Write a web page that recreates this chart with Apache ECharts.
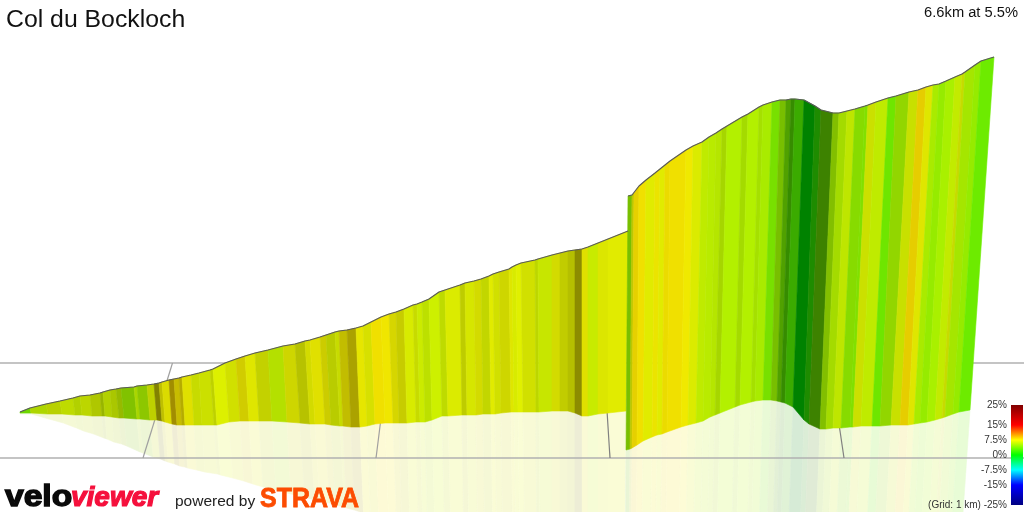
<!DOCTYPE html>
<html><head><meta charset="utf-8">
<style>html,body{margin:0;padding:0;background:#fff}#c{width:1024px;height:512px}</style>
<script src="https://cdn.jsdelivr.net/npm/echarts@6/dist/echarts.min.js"></script>
</head><body><div id="c"></div>
<script>
const title = 'Col du Bockloch';
const summary = '6.6km at 5.5%';
const gradeStops = [-25,-15,-7.5,0,7.5,15,25];
const gradeColors = [[0,0,128],[0,0,255],[0,255,255],[0,255,0],[255,255,0],[255,0,0],[128,0,0]];
const legendLabels = ['25%','15%','7.5%','0%','-7.5%','-15%','(Grid: 1 km) -25%'];
const legendRows = [405,425,440,455,470,485,505];

// lower ribbon
const w1TopX = [20,30,46,60,73,80,90,100,103,110,116,121,134,137,147,154,159,162,169,174,179,182,191,199,210,213,225,236,245,255,268,283,295,305,310,320,326,335,339,347,356,363,371,381,389,396,404,413,417,422,429,439,445,460,465,474,481,489,493,499,509,512,516,521,535,538,552,560,568,575,582,588,598,608,628];
const w1TopY = [412,408,404,401,398,396,395,393,392,390,389,388,387,386,385,384,383,382,380,379,378,377,375,373,370,369,363,359,356,353,350,346,344,341,340,337,335,332,331,330,328,326,322,317,314,312,309,305,304,302,299,292,290,285,283,281,279,276,274,272,269,267,265,263,260,259,255,253,251,250,249,247,243,239,231];
const w1BaseX = [20,31,48,62,75,82,92,102,105,112,119,124,137,140,150,157,162,165,172,177,182,185,194,202,214,217,229,240,249,259,272,287,300,310,315,325,331,340,343,351,360,367,375,385,393,399,407,416,420,425,432,442,448,462,467,476,483,491,495,501,511,514,518,523,536,539,552,560,568,575,582,588,598,608,626];
const w1BaseY = [413,413,414,414,415,415,416,416,416,417,418,418,419,419,420,420,421,422,424,425,425,425,425,425,425,425,422,421,421,421,421,422,423,424,424,424,425,426,426,427,427,426,424,423,423,423,423,422,422,422,420,416,416,415,415,415,414,414,414,413,412,412,412,412,412,412,411,411,411,413,416,416,414,413,411];
const w1FootY = [414,414,419,423,428,431,434,438,439,442,444,446,452,453,457,459,461,462,464,466,467,468,470,472,474,475,478,481,484,487,490,494,497,500,501,503,505,507,508,510,513,515,518,530,530,530,530,530,530,530,530,530,530,530,530,530,530,530,530,530,530,530,530,530,530,530,530,530,530,530,530,530,530,530,530];
const w1Grade = [3.8,6.1,6.6,6.5,6.4,6.6,6.6,6.3,6.4,6.4,6.1,5.0,5.9,5.3,6.8,7.5,7.5,7.5,8.4,7.9,7.9,7.5,6.8,6.8,6.8,6.9,7.0,7.7,7.3,7.0,6.0,7.2,7.1,7.2,7.5,7.5,6.8,6.8,7.7,7.9,7.5,7.2,8.0,7.8,7.5,7.3,6.9,6.8,6.5,6.3,6.4,6.5,7.0,7.0,7.0,7.2,6.8,7.2,7.0,7.2,7.3,6.9,7.0,7.0,6.6,6.5,7.2,7.1,7.1,7.5,7.5,6.4,7.2,7.2];
const w1Shade = [.84,.84,.82,.86,.82,.84,.78,.71,.82,.78,.73,.76,.84,.78,.82,.51,.75,.86,.63,.78,.71,.88,.86,.88,.82,.94,.88,.82,.9,.82,.88,.84,.76,.86,.88,.8,.8,.86,.76,.67,.9,.88,.94,.94,.84,.8,.92,.86,.92,.88,.94,.86,.92,.8,.9,.86,.84,.92,.88,.84,.9,.92,.94,.88,.84,.9,.86,.8,.75,.55,.88,.92,.9,.92];

// upper ribbon
const w2TopX = [628,632,634,639,646,655,660,665,670,686,693,702,709,716,722,727,742,748,759,763,772,780,786,791,795,804,815,821,833,839,847,855,865,868,876,888,896,909,918,926,933,939,946,955,962,965,975,981,994];
const w2TopY = [196,195,193,186,180,173,169,165,161,150,146,142,137,133,129,126,117,114,107,105,102,100,100,99,99,100,106,110,113,113,111,109,106,105,102,98,96,92,90,87,85,84,81,77,74,72,65,61,57];
const w2BaseX = [626,630,632,637,643,652,657,662,667,681,688,696,703,710,715,720,735,740,751,755,763,771,777,781,785,793,804,809,820,826,833,841,850,853,861,872,880,891,900,908,914,920,927,935,942,945,953,959,970];
const w2BaseY = [450,449,448,445,441,437,435,434,432,427,425,423,421,417,415,413,407,405,402,401,400,400,401,402,403,407,420,424,429,429,428,428,427,427,426,426,426,425,425,425,424,423,422,420,418,417,414,412,410];
const w2FootY = [530,530,530,530,530,530,530,530,530,530,530,530,530,530,530,530,530,530,530,530,530,530,530,530,530,530,530,530,530,530,530,530,530,530,530,530,530,530,530,530,530,530,530,530,530,530,530,530,530];
const w2Grade = [4.7,7.1,8.2,8.0,7.2,7.7,7.2,8.0,8.0,7.7,7.0,6.1,5.9,5.9,5.8,5.6,5.6,5.6,5.5,5.4,4.0,4.7,3.75,2.9,2.6,0,1.6,3.5,5.1,5.6,6.2,4.6,4.3,6.8,6.1,3.6,5.1,6.7,8.3,7.3,5.4,4.8,5.3,6.2,6.8,5.4,4.8,3.5];
const w2Shade = [.75,.78,.9,.94,.92,.92,.92,.92,.94,.94,.92,.92,.92,.9,.84,.94,.86,.94,.88,.92,.88,.75,.63,.55,.67,.51,.55,.51,.75,.86,.9,.86,.88,.88,.92,.9,.84,.88,.9,.9,.92,.92,.94,.92,.86,.9,.92,.92];

// floor grid
const gridHorizontalY = [363,458];
const gridFarX = [172.5,388,604,830];
const gridNearX = [143,376,610,844];
const gridColors = ['#a0a0a0','#a0a0a0','#808080','#808080'];

function gradeColor(g, shade, wash) {
  let i = 0;
  while (i < gradeStops.length - 2 && g > gradeStops[i + 1]) i++;
  const t = (g - gradeStops[i]) / (gradeStops[i + 1] - gradeStops[i]);
  const rgb = gradeColors[i].map((c, k) => c + (gradeColors[i + 1][k] - c) * t);
  return 'rgb(' + rgb.map(c => {
    const v = c * shade;
    return Math.round(wash ? v * 0.16 + 255 * 0.84 : v);
  }).join(',') + ')';
}
function rows(tx, ty, bx, by, fy, g, s) {
  return g.map((v, i) => [tx[i], ty[i], bx[i], by[i], fy[i], tx[i + 1], ty[i + 1], bx[i + 1], by[i + 1], fy[i + 1], v, s[i]]);
}
const wall1 = rows(w1TopX, w1TopY, w1BaseX, w1BaseY, w1FootY, w1Grade, w1Shade);
const wall2 = rows(w2TopX, w2TopY, w2BaseX, w2BaseY, w2FootY, w2Grade, w2Shade);

function quad(points, color, api) {
  return { type: 'polygon', shape: { points: points.map(p => api.coord(p)) },
    style: { fill: color, stroke: color, lineWidth: 0.6 } };
}
function wallItem(_, api) {
  const v = k => api.value(k);
  return quad([[v(0), v(1)], [v(5), v(6)], [v(7), v(8)], [v(2), v(3)]], gradeColor(v(10), v(11), false), api);
}
function footX(tx, ty, bx, by, fy) {
  const h = by - ty;
  return h > 0 ? bx + (bx - tx) / h * (fy - by) : bx;
}
function washItem(_, api) {
  const v = k => api.value(k);
  const fa = footX(v(0), v(1), v(2), v(3), v(4));
  const fb = footX(v(5), v(6), v(7), v(8), v(9));
  return quad([[v(2), v(3)], [v(7), v(8)], [fb, v(9)], [fa, v(4)]], gradeColor(v(10), v(11), true), api);
}
const custom = (data, renderItem, z) => ({ type: 'custom', data, renderItem, z, silent: true, clip: false, animation: false,
  encode: { x: [0, 2, 5, 7], y: [1, 3, 6, 8] } });
const ridge = (xs, ys) => ({ type: 'line', data: xs.map((x, i) => [x, ys[i]]), z: 5, symbol: 'none', silent: true, animation: false,
  lineStyle: { color: '#5a5a5a', width: 1.2 } });
const gridLine = (pts, color, w) => ({ type: 'line', data: pts, z: 2, symbol: 'none', silent: true, animation: false,
  lineStyle: { color, width: w } });

const series = [
  custom(wall1, washItem, 1),
  custom(wall2, washItem, 1),
  ...gridHorizontalY.map(y => gridLine([[0, y], [1024, y]], '#b0b0b0', 1.5)),
  ...gridNearX.map((x, i) => gridLine([[gridFarX[i], 363], [x, 458]], gridColors[i], 1.2)),
  custom(wall1, wallItem, 3),
  custom(wall2, wallItem, 4),
  ridge(w1TopX, w1TopY),
  ridge(w2TopX, w2TopY)
];

const textFont = '"Liberation Sans", Arial, sans-serif';
const txt = (x, y, text, size, fill, extra, scaleX) => ({ type: 'text', x, y, z: 20, silent: true, scaleX: scaleX || 1,
  style: Object.assign({ text, fontSize: size, fontFamily: textFont, fill, verticalAlign: 'middle' }, extra || {}) });
const legendStops = gradeStops.map((g, i) => ({ offset: (25 - g) / 50, color: 'rgb(' + gradeColors[i].join(',') + ')' })).reverse();

const graphic = [
  txt(6, 20, title, 24.8, '#111'),
  txt(1018, 13, summary, 14.7, '#111', { align: 'right' }),
  ...legendLabels.map((l, i) => txt(1007, legendRows[i], l, 10, '#333', { align: 'right' })),
  { type: 'rect', z: 20, silent: true, shape: { x: 1011, y: 405, width: 12, height: 100 },
    style: { fill: new echarts.graphic.LinearGradient(0, 0, 0, 1, legendStops) } },
  txt(5, 498, 'velo', 30, '#0a0a0a', { fontWeight: 'bold', stroke: '#0a0a0a', lineWidth: 1.4 }, 1.12),
  txt(71, 498, 'viewer', 28, '#f5103c', { fontWeight: 'bold', fontStyle: 'italic', stroke: '#f5103c', lineWidth: 1.2 }),
  txt(175, 502, 'powered by', 15.5, '#222'),
  txt(260, 500, 'STRAVA', 27, '#fc4c02', { fontWeight: 'bold', stroke: '#fc4c02', lineWidth: 0.8 }, 0.925)
];

const chart = echarts.init(document.getElementById('c'), null, { renderer: 'canvas', width: 1024, height: 512 });
chart.setOption({
  animation: false,
  backgroundColor: '#fff',
  grid: { left: 0, right: 0, top: 0, bottom: 0 },
  xAxis: { type: 'value', min: 0, max: 1024, show: false },
  yAxis: { type: 'value', min: 0, max: 512, inverse: true, show: false },
  series,
  graphic
});
</script></body></html>
